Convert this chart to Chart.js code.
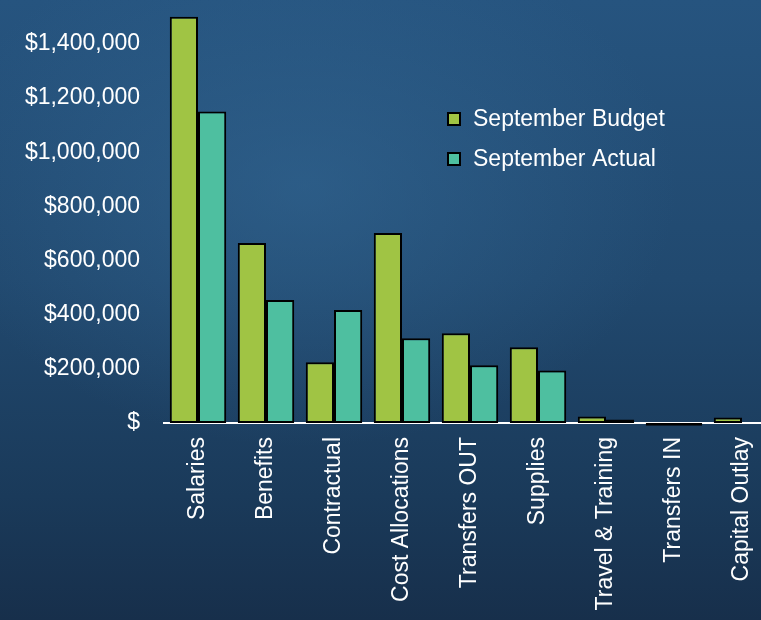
<!DOCTYPE html>
<html>
<head>
<meta charset="utf-8">
<script src="https://cdn.jsdelivr.net/npm/chart.js@4/dist/chart.umd.min.js"></script>
<style>
  html, body {
    margin: 0;
    padding: 0;
    width: 761px;
    height: 620px;
    overflow: hidden;
  }
  body {
    position: relative;
    background:
      radial-gradient(ellipse 70% 60% at 40% 30%, rgba(52, 105, 150, 0.55), rgba(52, 105, 150, 0) 70%),
      linear-gradient(180deg, #26547f 0%, #21496f 45%, #1a3a5a 80%, #172f4b 100%);
  }
  /* plot is wider and taller than the window; the top and right are cut off */
  .mos-chart {
    position: absolute;
    left: 0;
    top: -21px;
    width: 800px;
    height: 641px;
  }
</style>
</head>
<body>
<div class="mos-chart"><canvas id="budgetChart"></canvas></div>
<script>
const categories = ['Salaries', 'Benefits', 'Contractual', 'Cost Allocations', 'Transfers OUT',
  'Supplies', 'Travel & Training', 'Transfers IN', 'Capital Outlay'];
const budget = [1500000, 665000, 224000, 702000, 331000, 280000, 24000, -10000, 20000];
const actual = [1150000, 454000, 417000, 313000, 213000, 194000, 13000, -10000, 0];
const seriesNames = ['September Budget', 'September Actual'];
const tickValues = [0, 200000, 400000, 600000, 800000, 1000000, 1200000, 1400000];
const colors = ['#a0c444', '#4ebfa0'];

const font = { family: '"Liberation Sans", Arial, sans-serif', size: 23 };

// legend boxes sit inside the plot, to the right of the tall bars
const legendPlugin = {
  id: 'boxLegend',
  afterDraw(chart) {
    const ctx = chart.ctx;
    ctx.save();
    ctx.font = font.size + 'px ' + font.family;
    ctx.textBaseline = 'middle';
    chart.data.datasets.forEach((ds, i) => {
      const y = 134 + i * 40;
      ctx.fillStyle = ds.backgroundColor;
      ctx.fillRect(448, y, 12, 12);
      ctx.lineWidth = 2;
      ctx.strokeStyle = '#000';
      ctx.strokeRect(448, y, 12, 12);
      ctx.fillStyle = '#ffffff';
      ctx.fillText(ds.label, 473, y + 7);
    });
    ctx.restore();
  }
};

new Chart(document.getElementById('budgetChart'), {
  type: 'bar',
  data: {
    labels: categories,
    datasets: [
      { label: seriesNames[0], data: budget, backgroundColor: colors[0] },
      { label: seriesNames[1], data: actual, backgroundColor: colors[1] }
    ].map(ds => Object.assign(ds, {
      borderColor: '#000',
      borderWidth: 2,
      borderSkipped: false,
      barPercentage: 1,
      categoryPercentage: 0.83,
      clip: false
    }))
  },
  options: {
    responsive: true,
    maintainAspectRatio: false,
    animation: false,
    layout: { padding: { top: 0, right: 24, left: 0, bottom: 0 } },
    plugins: {
      legend: { display: false },
      tooltip: { enabled: false }
    },
    scales: {
      x: {
        grid: { display: false, drawTicks: false },
        border: { display: true, color: '#ffffff', width: 2 },
        ticks: {
          color: '#ffffff',
          font: font,
          minRotation: 90,
          maxRotation: 90,
          autoSkip: false,
          padding: 14
        },
        afterFit(scale) { scale.height = 197; }
      },
      y: {
        min: 0,
        max: 1500000,
        grid: { display: false, drawTicks: false },
        border: { display: false },
        ticks: {
          color: '#ffffff',
          font: font,
          padding: 24,
          callback: v => v === 0 ? '$' : '$' + v.toLocaleString('en-US')
        },
        afterBuildTicks(scale) {
          scale.ticks = tickValues.map(v => ({ value: v }));
        },
        afterFit(scale) { scale.width = 164; }
      }
    }
  },
  plugins: [legendPlugin]
});
</script>
</body>
</html>
